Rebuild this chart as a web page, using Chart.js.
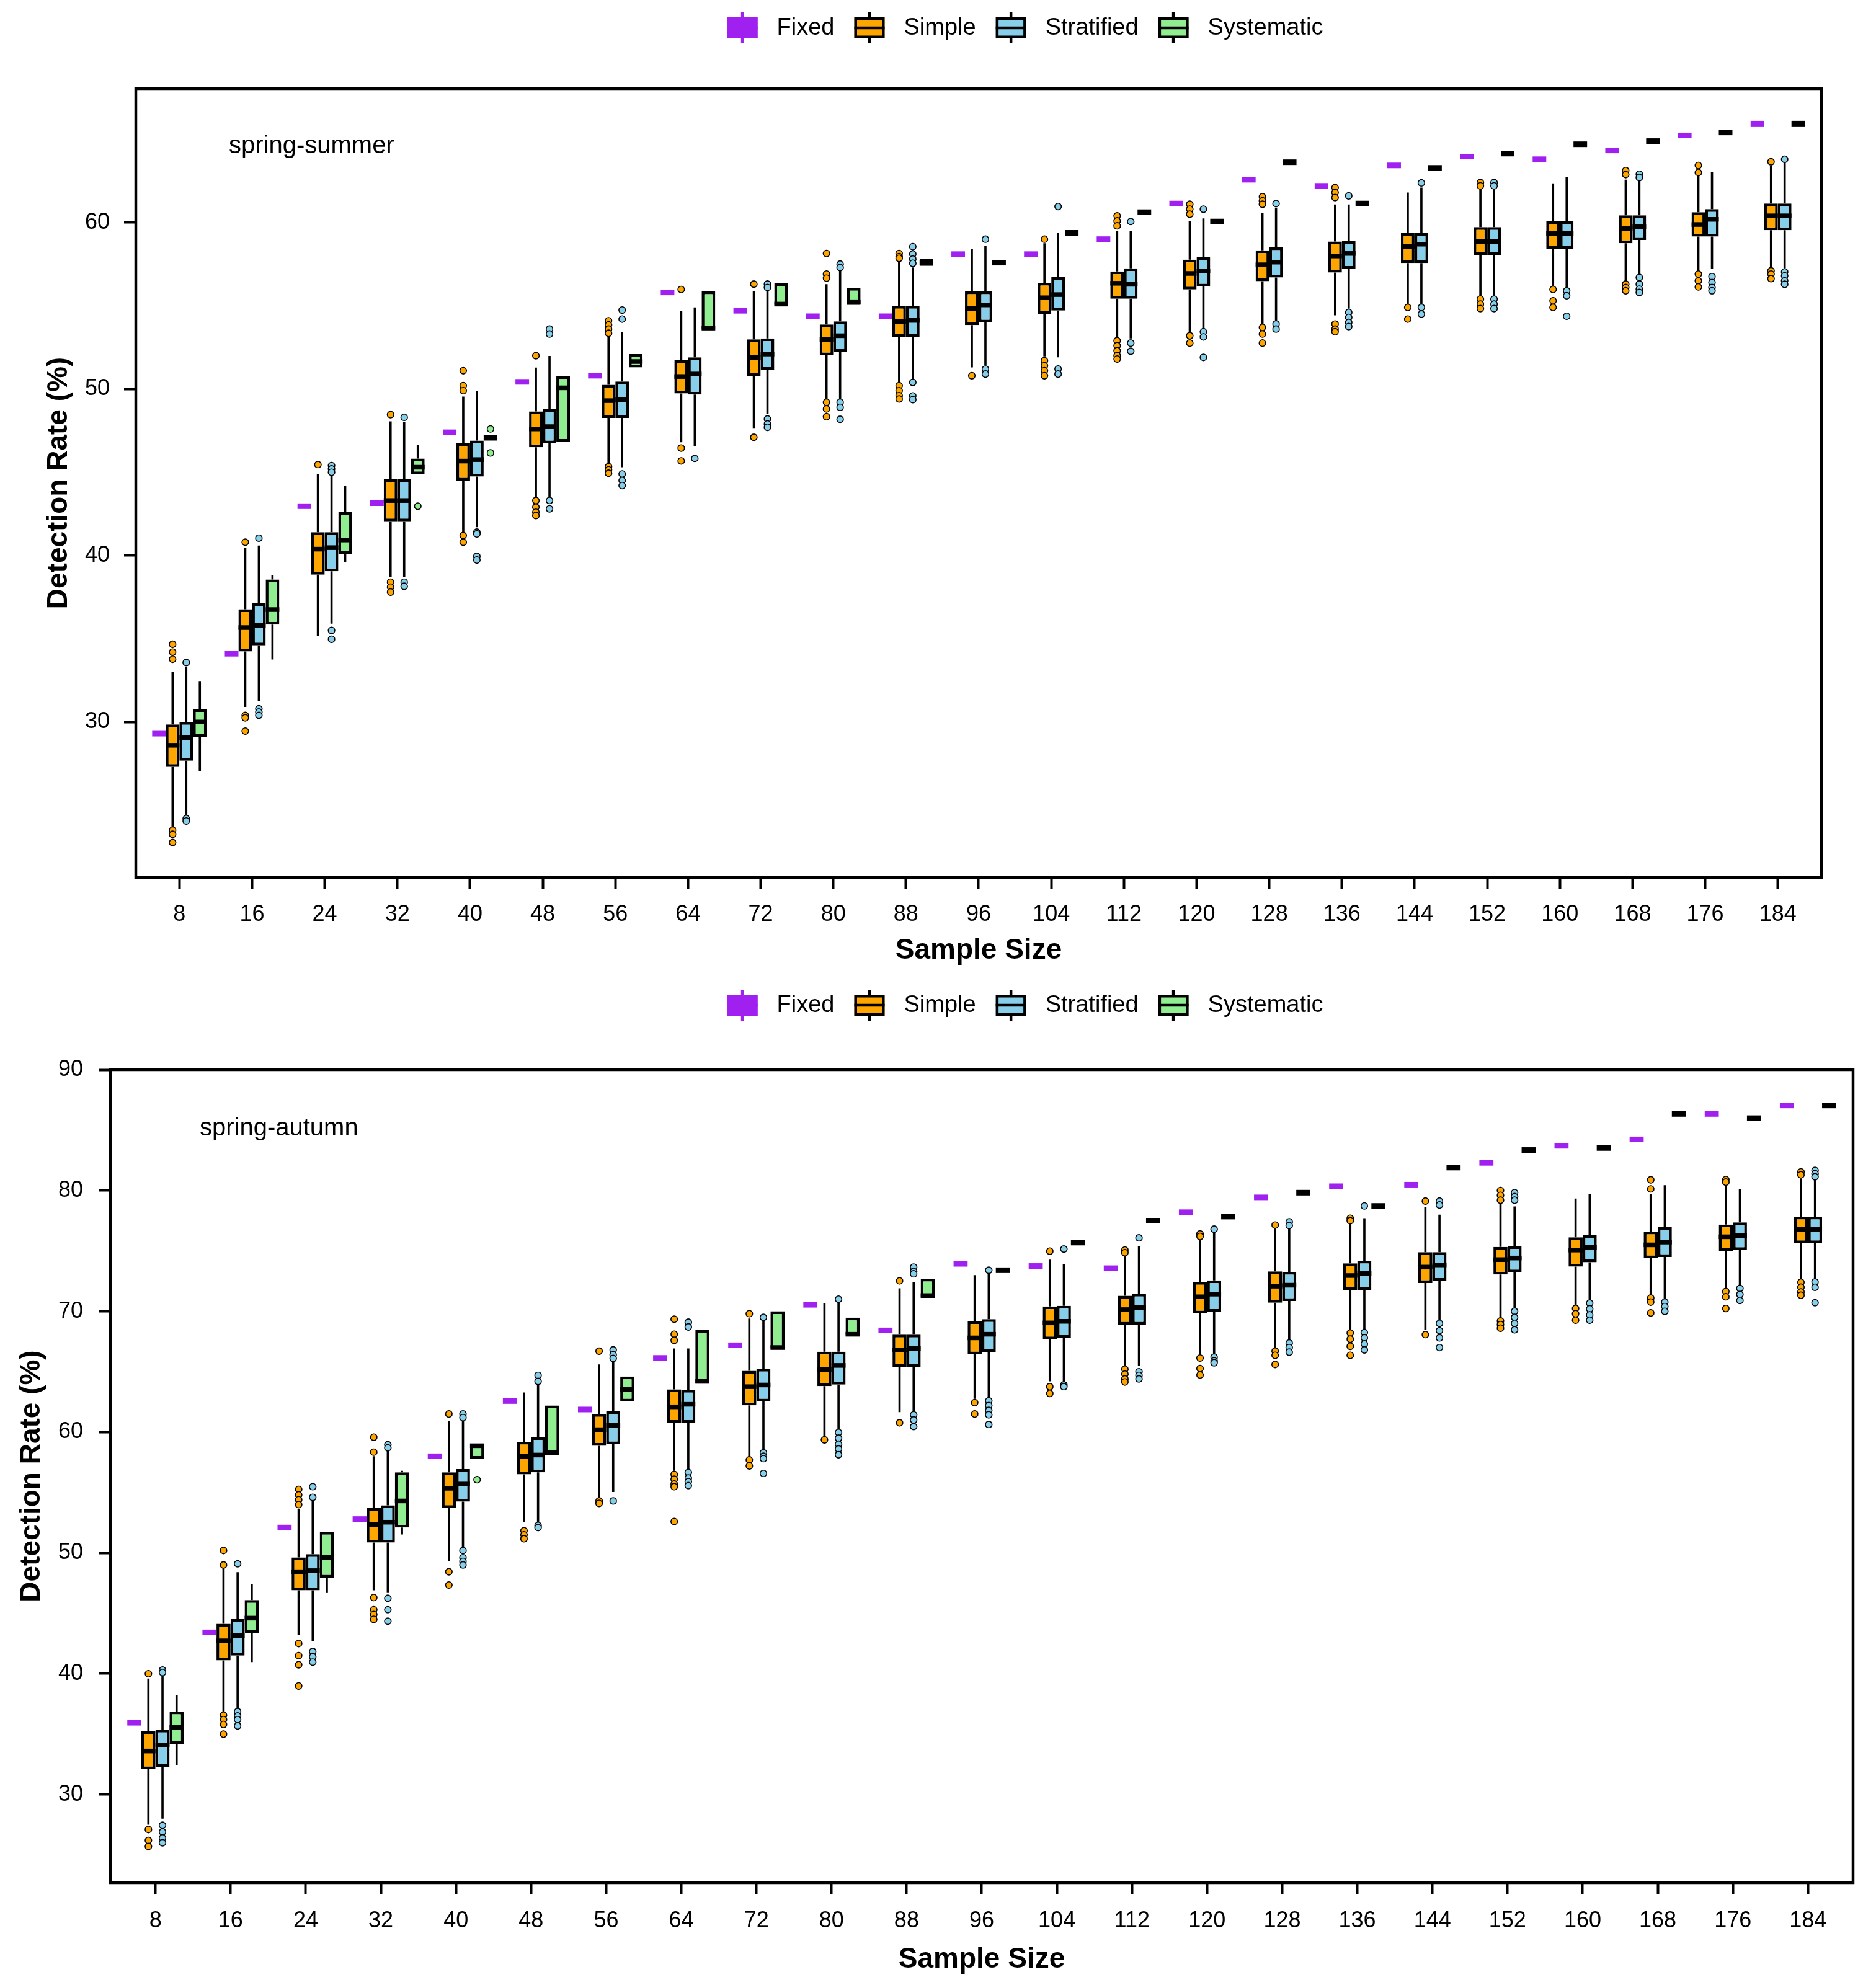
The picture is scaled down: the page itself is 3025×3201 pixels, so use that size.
<!DOCTYPE html>
<html>
<head>
<meta charset="utf-8">
<title>Detection rate by sample size</title>
<script src="https://cdn.jsdelivr.net/npm/chart.js@4.4.1/dist/chart.umd.min.js"></script>
<style>
  html, body { margin: 0; padding: 0; background: #fff; }
  #page { position: relative; width: 3025px; height: 3201px; }
  .panel { position: absolute; left: 0; width: 3025px; }
  #panelTop { top: 0; height: 1590px; }
  #panelBottom { top: 1590px; height: 1611px; }
</style>
</head>
<body>
<div id="page">
  <div class="panel" id="panelTop"><canvas id="canvasTop"></canvas></div>
  <div class="panel" id="panelBottom"><canvas id="canvasBottom"></canvas></div>
</div>
<script>
const sampleSizes = [8, 16, 24, 32, 40, 48, 56, 64, 72, 80, 88, 96, 104, 112, 120, 128, 136, 144, 152, 160, 168, 176, 184];
const methods = ["Fixed", "Simple", "Stratified", "Systematic"];
const methodColors = ["#A020F0", "#FFA500", "#87CEEB", "#90EE90"];

// box summaries are [lower whisker, q1, median, q3, upper whisker]

// spring-summer
const summerTicks = [30, 40, 50, 60];
const summerFixed = [29.3, 34.1, 42.96, 43.14, 47.4, 50.43, 50.8, 55.8, 54.7, 54.37, 54.37, 58.1, 58.1, 59.0, 61.14, 62.57, 62.2, 63.43, 63.96, 63.8, 64.33, 65.23, 65.94];
const summerSimple = [
  [23.6, 27.3, 28.6, 29.85, 33.0], [30.9, 34.24, 35.67, 36.77, 40.47], [35.17, 38.85, 40.38, 41.4, 44.88],
  [38.7, 42.05, 43.3, 44.58, 48.06], [41.4, 44.5, 45.67, 46.73, 49.55], [43.45, 46.5, 47.6, 48.65, 51.29],
  [45.56, 48.26, 49.3, 50.25, 53.1], [46.8, 49.73, 50.75, 51.74, 54.68], [47.66, 50.78, 51.9, 52.98, 55.9],
  [49.4, 52.02, 52.98, 53.88, 56.3], [50.41, 53.13, 54.06, 54.99, 57.7], [51.3, 53.84, 54.83, 55.86, 58.4],
  [51.96, 54.52, 55.48, 56.38, 58.76], [53.04, 55.42, 56.35, 57.06, 59.47], [53.38, 55.98, 56.94, 57.77, 60.09],
  [53.9, 56.47, 57.46, 58.33, 60.56], [54.43, 57.0, 57.99, 58.86, 61.08], [54.99, 57.56, 58.55, 59.38, 61.8],
  [55.6, 58.05, 58.86, 59.72, 62.1], [56.07, 58.42, 59.35, 60.09, 62.35], [56.47, 58.76, 59.63, 60.43, 62.57],
  [57.0, 59.16, 59.88, 60.62, 62.88], [57.25, 59.54, 60.4, 61.14, 63.43]
];
const summerSimpleOut = [
  [34.67, 34.2, 33.77, 23.5, 23.25, 22.76], [40.8, 30.4, 30.25, 29.45], [45.46],
  [48.46, 38.4, 38.1, 37.8], [51.1, 50.2, 49.9, 41.2, 40.8], [52.0, 43.3, 42.9, 42.6, 42.4],
  [54.1, 53.85, 53.6, 53.35, 45.34, 45.15, 44.94], [55.98, 46.45, 45.68], [56.3, 47.1],
  [58.14, 56.9, 56.66, 49.2, 48.8, 48.34], [58.14, 57.95, 57.85, 50.2, 49.9, 49.6, 49.4], [50.8],
  [59.0, 51.7, 51.4, 51.1, 50.8], [60.4, 60.1, 59.8, 52.9, 52.6, 52.3, 52.0, 51.8], [61.1, 60.8, 60.5, 53.2, 52.76],
  [61.55, 61.3, 61.1, 53.7, 53.3, 52.76], [62.1, 61.8, 61.5, 53.9, 53.6, 53.44], [54.9, 54.2],
  [62.4, 62.2, 55.4, 55.1, 54.83], [55.98, 55.3, 54.9], [63.12, 62.88, 56.3, 56.1, 55.9],
  [63.43, 63.0, 56.9, 56.5, 56.13], [63.65, 57.1, 56.9, 56.63]
];
const summerStrat = [
  [24.4, 27.67, 29.05, 30.0, 33.3], [31.26, 34.6, 35.8, 37.13, 40.6], [35.9, 39.05, 40.47, 41.4, 44.8],
  [38.7, 42.05, 43.3, 44.58, 48.0], [41.7, 44.74, 45.76, 46.9, 49.86], [43.5, 46.73, 47.74, 48.8, 51.99],
  [45.3, 48.26, 49.37, 50.45, 53.44], [46.58, 49.67, 50.9, 51.9, 54.9], [48.5, 51.15, 52.1, 53.04, 55.86],
  [49.4, 52.24, 53.2, 54.06, 57.15], [50.6, 53.13, 54.12, 54.99, 57.3], [51.43, 54.0, 55.05, 55.86, 58.6],
  [51.9, 54.71, 55.67, 56.72, 59.38], [53.04, 55.42, 56.29, 57.25, 59.47], [53.6, 56.16, 57.09, 57.93, 60.25],
  [54.06, 56.7, 57.62, 58.5, 60.9], [54.83, 57.22, 58.14, 58.89, 61.08], [54.99, 57.56, 58.7, 59.38, 62.1],
  [55.6, 58.05, 58.86, 59.72, 62.1], [56.07, 58.42, 59.35, 60.09, 62.72], [56.84, 58.95, 59.75, 60.43, 62.5],
  [57.22, 59.16, 60.19, 60.8, 63.03], [57.25, 59.54, 60.4, 61.14, 63.6]
];
const summerStratOut = [
  [33.57, 24.2, 24.05], [41.04, 30.8, 30.6, 30.4], [45.4, 45.2, 45.0, 35.5, 34.97],
  [48.3, 38.4, 38.15], [41.4, 41.3, 39.95, 39.73], [53.6, 53.3, 43.3, 42.8],
  [54.74, 54.2, 44.9, 44.5, 44.2], [45.83], [56.3, 56.1, 48.2, 47.9, 47.7],
  [57.5, 57.3, 49.2, 48.9, 48.18], [58.55, 58.1, 57.8, 57.55, 50.4, 49.58, 49.36], [59.0, 51.2, 50.9],
  [60.96, 51.2, 50.9], [60.06, 52.76, 52.27], [60.8, 53.44, 53.13, 51.9],
  [61.14, 53.9, 53.6], [61.6, 54.6, 54.3, 54.0, 53.75], [62.38, 54.9, 54.5],
  [62.4, 62.2, 55.4, 55.1, 54.83], [55.9, 55.6, 54.37], [62.9, 62.7, 56.7, 56.3, 56.0, 55.8],
  [56.75, 56.4, 56.1, 55.9], [63.8, 57.03, 56.8, 56.5, 56.29]
];
const summerSyst = [
  [27.06, 29.1, 30.0, 30.77, 32.46], [33.75, 35.85, 36.75, 38.56, 38.83], [39.6, 40.1, 40.93, 42.6, 44.2],
  [44.88, 44.88, 45.3, 45.82, 46.66], [47.07, 47.07, 47.07, 47.07, 47.07], [46.84, 46.84, 50.07, 50.77, 50.77],
  [51.3, 51.3, 51.65, 52.1, 52.1], [53.6, 53.6, 53.66, 55.86, 55.86], [55.05, 55.05, 55.1, 56.35, 56.35],
  [55.05, 55.05, 55.24, 56.07, 56.07], [57.4, 57.4, 57.6, 57.83, 57.83], [57.59, 57.59, 57.59, 57.59, 57.59],
  [59.38, 59.38, 59.38, 59.38, 59.38], [60.62, 60.62, 60.62, 60.62, 60.62], [60.06, 60.06, 60.06, 60.06, 60.06],
  [63.62, 63.62, 63.62, 63.62, 63.62], [61.14, 61.14, 61.14, 61.14, 61.14], [63.28, 63.28, 63.28, 63.28, 63.28],
  [64.14, 64.14, 64.14, 64.14, 64.14], [64.7, 64.7, 64.7, 64.7, 64.7], [64.89, 64.89, 64.89, 64.89, 64.89],
  [65.41, 65.41, 65.41, 65.41, 65.41], [65.94, 65.94, 65.94, 65.94, 65.94]
];
const summerSystOut = [[], [], [], [42.96], [47.6, 46.16], [], [], [], [], [], [], [], [], [], [], [], [], [], [], [], [], [], []];

// spring-autumn
const autumnTicks = [30, 40, 50, 60, 70, 80, 90];
const autumnFixed = [35.94, 43.42, 52.1, 52.8, 58.0, 62.57, 61.87, 66.14, 67.19, 70.54, 68.42, 73.93, 73.75, 73.57, 78.2, 79.43, 80.35, 80.48, 82.29, 83.7, 84.23, 86.34, 87.04];
const autumnSimple = [
  [27.5, 32.1, 33.6, 35.24, 39.6], [36.78, 41.1, 42.72, 44.13, 48.9], [43.2, 46.9, 48.44, 49.63, 53.6],
  [46.9, 50.86, 52.36, 53.72, 58.0], [49.3, 53.72, 55.35, 56.67, 60.9], [52.54, 56.5, 57.99, 59.2, 63.28],
  [54.47, 58.87, 60.2, 61.5, 65.6], [56.8, 60.77, 62.09, 63.54, 66.93], [57.9, 62.22, 63.76, 65.08, 69.4],
  [59.6, 63.8, 65.17, 66.66, 70.67], [61.65, 65.39, 66.8, 68.07, 71.9], [62.75, 66.44, 67.8, 69.17, 73.0],
  [64.2, 67.68, 69.04, 70.4, 74.28], [65.48, 68.9, 70.14, 71.29, 74.7], [66.3, 69.83, 71.2, 72.43, 76.04],
  [66.93, 70.71, 72.08, 73.3, 77.0], [68.47, 71.77, 72.96, 73.97, 77.3], [68.47, 72.34, 73.66, 74.9, 78.6],
  [69.44, 73.05, 74.28, 75.33, 78.9], [70.45, 73.7, 75.07, 76.13, 79.34], [71.2, 74.4, 75.5, 76.6, 79.7],
  [71.77, 74.98, 76.17, 77.18, 80.5], [72.65, 75.64, 76.79, 77.84, 81.0]
];
const autumnSimpleOut = [
  [40.0, 27.1, 26.2, 25.7], [50.2, 49.0, 36.56, 36.2, 35.8, 35.0], [55.26, 54.8, 54.4, 54.0, 42.5, 41.5, 40.74, 38.98],
  [59.58, 58.34, 46.3, 45.3, 44.9, 44.5], [61.5, 48.44, 47.34], [51.83, 51.5, 51.17],
  [66.7, 54.3, 54.1], [69.35, 68.1, 67.6, 56.5, 56.1, 55.7, 55.48, 52.6], [69.8, 57.7, 57.2],
  [59.36], [72.52, 60.77], [62.44, 61.5],
  [74.98, 63.76, 63.2], [75.07, 74.85, 65.2, 64.8, 64.4, 64.15], [76.4, 76.2, 66.13, 65.26, 64.73],
  [77.14, 66.7, 66.36, 65.6], [77.7, 77.5, 68.2, 67.7, 67.1, 66.36], [79.12, 68.07],
  [80.0, 79.6, 79.2, 69.2, 68.9, 68.6], [70.23, 69.8, 69.26], [80.88, 80.13, 71.1, 70.76, 69.87],
  [80.9, 80.7, 71.64, 71.2, 70.23], [81.54, 81.3, 72.4, 72.0, 71.6, 71.33]
];
const autumnStrat = [
  [28.0, 32.3, 34.1, 35.37, 39.8], [37.0, 41.5, 43.16, 44.52, 48.4], [42.72, 46.9, 48.53, 49.9, 54.38],
  [46.68, 50.86, 52.54, 53.94, 58.5], [50.42, 54.25, 55.7, 56.94, 61.0], [52.54, 56.67, 58.1, 59.58, 63.9],
  [55.04, 59.0, 60.55, 61.73, 65.8], [56.8, 60.77, 62.3, 63.5, 66.93], [58.43, 62.53, 63.9, 65.25, 69.4],
  [60.1, 63.93, 65.52, 66.66, 70.7], [61.65, 65.39, 66.93, 68.07, 72.4], [62.84, 66.62, 68.1, 69.35, 73.2],
  [64.07, 67.8, 69.17, 70.45, 73.88], [65.48, 68.9, 70.32, 71.46, 75.42], [66.36, 69.96, 71.42, 72.56, 76.5],
  [67.5, 70.85, 72.16, 73.27, 77.0], [68.47, 71.77, 73.13, 74.19, 77.7], [69.13, 72.52, 73.84, 74.9, 78.0],
  [70.14, 73.22, 74.41, 75.38, 78.68], [70.76, 74.06, 75.29, 76.3, 79.69], [70.9, 74.5, 75.73, 76.96, 80.44],
  [71.99, 75.07, 76.26, 77.36, 80.1], [72.52, 75.64, 76.79, 77.84, 80.9]
];
const autumnStratOut = [
  [40.3, 40.1, 27.45, 26.9, 26.4, 26.0], [49.1, 36.86, 36.5, 36.2, 35.68], [55.48, 54.6, 41.84, 41.4, 40.96],
  [58.96, 58.7, 46.24, 45.3, 44.35], [61.5, 61.2, 50.2, 49.6, 49.3, 49.0], [64.7, 64.2, 52.27, 52.1],
  [66.8, 66.4, 66.1, 54.3], [69.1, 68.7, 56.67, 56.2, 55.9, 55.57], [69.5, 58.3, 58.0, 57.8, 56.58],
  [71.0, 59.97, 59.5, 59.0, 58.6, 58.13], [73.66, 73.3, 73.1, 61.43, 61.0, 60.46], [73.4, 62.6, 62.2, 61.8, 61.43, 60.63],
  [75.16, 63.9, 63.76], [76.08, 65.0, 64.7, 64.4], [76.8, 66.2, 65.9, 65.74],
  [77.4, 77.1, 67.37, 67.0, 66.62], [78.72, 68.25, 67.8, 67.3, 66.8], [79.12, 78.8, 69.0, 68.4, 67.8, 67.0],
  [79.82, 79.5, 79.2, 70.0, 69.5, 69.0, 68.47], [70.67, 70.2, 69.7, 69.26], [70.76, 70.4, 70.0],
  [71.9, 71.4, 70.9], [81.67, 81.4, 81.14, 72.43, 71.99, 70.71]
];
const autumnSyst = [
  [32.4, 34.2, 35.55, 36.87, 38.2], [40.96, 43.38, 44.6, 46.1, 47.43], [46.68, 47.96, 49.63, 51.74, 51.74],
  [51.52, 52.1, 54.3, 56.67, 56.8], [57.8, 57.8, 58.87, 58.96, 58.96], [58.1, 58.1, 58.34, 62.2, 62.2],
  [62.53, 62.53, 63.54, 64.6, 64.6], [64.07, 64.07, 64.2, 68.47, 68.47], [66.93, 66.93, 67.0, 70.0, 70.0],
  [68.03, 68.03, 68.1, 69.48, 69.48], [71.2, 71.2, 71.3, 72.7, 72.7], [73.4, 73.4, 73.4, 73.4, 73.4],
  [75.69, 75.69, 75.69, 75.69, 75.69], [77.5, 77.5, 77.5, 77.5, 77.5], [77.84, 77.84, 77.84, 77.84, 77.84],
  [79.82, 79.82, 79.82, 79.82, 79.82], [78.72, 78.72, 78.72, 78.72, 78.72], [81.9, 81.9, 81.9, 81.9, 81.9],
  [83.35, 83.35, 83.35, 83.35, 83.35], [83.52, 83.52, 83.52, 83.52, 83.52], [86.34, 86.34, 86.34, 86.34, 86.34],
  [85.99, 85.99, 85.99, 85.99, 85.99], [87.04, 87.04, 87.04, 87.04, 87.04]
];
const autumnSystOut = [[], [], [], [], [56.06], [], [], [], [], [], [], [], [], [], [], [], [], [], [], [], [], [], []];

const FONT = "'Liberation Sans', Arial, Helvetica, sans-serif";
Chart.defaults.font.family = FONT;
Chart.defaults.color = "#000";

// whiskers under the boxes, medians and outliers on top
const boxParts = {
  id: "boxParts",
  beforeDatasetsDraw(chart) {
    const {ctx, scales: {y}} = chart;
    ctx.save();
    ctx.strokeStyle = "#000";
    ctx.lineWidth = 3.6;
    chart.data.datasets.forEach((ds, i) => {
      chart.getDatasetMeta(i).data.forEach((bar, j) => {
        const s = ds.summary[j];
        ctx.beginPath();
        if (s[0] < s[1]) {
          ctx.moveTo(bar.x, y.getPixelForValue(s[0]));
          ctx.lineTo(bar.x, y.getPixelForValue(s[1]));
        }
        if (s[4] > s[3]) {
          ctx.moveTo(bar.x, y.getPixelForValue(s[3]));
          ctx.lineTo(bar.x, y.getPixelForValue(s[4]));
        }
        ctx.stroke();
      });
    });
    ctx.restore();
  },
  afterDatasetsDraw(chart) {
    const {ctx, scales: {y}} = chart;
    ctx.save();
    ctx.lineCap = "butt";
    chart.data.datasets.forEach((ds, i) => {
      chart.getDatasetMeta(i).data.forEach((bar, j) => {
        const s = ds.summary[j];
        const py = y.getPixelForValue(s[2]);
        ctx.strokeStyle = ds.medianColor;
        ctx.lineWidth = s[1] === s[3] ? 9 : 7.5;
        ctx.beginPath();
        ctx.moveTo(bar.x - bar.width / 2, py);
        ctx.lineTo(bar.x + bar.width / 2, py);
        ctx.stroke();
      });
    });
    ctx.lineWidth = 1.6;
    ctx.strokeStyle = "#000";
    chart.data.datasets.forEach((ds, i) => {
      ctx.fillStyle = ds.backgroundColor;
      chart.getDatasetMeta(i).data.forEach((bar, j) => {
        ds.outliers[j].forEach(v => {
          ctx.beginPath();
          ctx.arc(bar.x, y.getPixelForValue(v), 5.3, 0, Math.PI * 2);
          ctx.fill();
          ctx.stroke();
        });
      });
    });
    ctx.restore();
  }
};

function drawGlyph(ctx, x, cy, i) {
  const w = 49, h = 34, stub = 8;
  const line = i === 0 ? methodColors[0] : "#000";
  ctx.lineWidth = 4.5;
  ctx.strokeStyle = line;
  ctx.beginPath();
  ctx.moveTo(x + w / 2, cy - h / 2 - stub);
  ctx.lineTo(x + w / 2, cy - h / 2);
  ctx.moveTo(x + w / 2, cy + h / 2);
  ctx.lineTo(x + w / 2, cy + h / 2 + stub);
  ctx.stroke();
  ctx.fillStyle = methodColors[i];
  ctx.fillRect(x, cy - h / 2, w, h);
  ctx.strokeRect(x + 2.25, cy - h / 2 + 2.25, w - 4.5, h - 4.5);
  ctx.beginPath();
  ctx.moveTo(x, cy);
  ctx.lineTo(x + w, cy);
  ctx.stroke();
}

// panel frame, panel label and the boxplot-style legend
const panelDecor = {
  id: "panelDecor",
  afterDraw(chart, args, opts) {
    const {ctx, chartArea: a} = chart;
    ctx.save();
    ctx.strokeStyle = "#000";
    ctx.lineWidth = 4.5;
    ctx.strokeRect(a.left, a.top, a.right - a.left, a.bottom - a.top);

    ctx.fillStyle = "#000";
    ctx.font = "40px " + FONT;
    ctx.textBaseline = "middle";
    ctx.textAlign = "left";
    ctx.fillText(opts.label, a.left + opts.labelDx, a.top + opts.labelDy);

    ctx.font = "38px " + FONT;
    const glyphW = 49, gapText = 31, gapItem = 32;
    const widths = methods.map(m => ctx.measureText(m).width);
    const total = widths.reduce((acc, w) => acc + glyphW + gapText + w, 0) + gapItem * (methods.length - 1);
    let x = opts.legendX - total / 2;
    methods.forEach((m, i) => {
      drawGlyph(ctx, x, opts.legendY, i);
      ctx.fillStyle = "#000";
      ctx.fillText(m, x + glyphW + gapText, opts.legendY + 1);
      x += glyphW + gapText + widths[i] + gapItem;
    });
    ctx.restore();
  }
};

function buildDatasets(fixed, simple, simpleOut, strat, stratOut, syst, systOut) {
  const parts = [
    [fixed.map(v => [v, v, v, v, v]), fixed.map(() => [])],
    [simple, simpleOut],
    [strat, stratOut],
    [syst, systOut]
  ];
  return parts.map(([summary, outliers], i) => ({
    label: methods[i],
    data: summary.map((s, j) => ({x: j, y: [s[1], s[3]]})),
    summary: summary,
    outliers: outliers,
    backgroundColor: methodColors[i],
    borderColor: "#000",
    borderWidth: i === 0 ? 0 : 4.5,
    borderSkipped: false,
    medianColor: i === 0 ? methodColors[0] : "#000",
    categoryPercentage: 0.75,
    barPercentage: 1
  }));
}

function makeChart(canvasId, p) {
  return new Chart(document.getElementById(canvasId), {
    type: "bar",
    data: {datasets: p.datasets},
    options: {
      responsive: true,
      maintainAspectRatio: false,
      animation: false,
      events: [],
      layout: {padding: {top: p.padTop, right: p.padRight, left: 0, bottom: 0}},
      plugins: {
        legend: {display: false},
        tooltip: {enabled: false},
        panelDecor: {label: p.label, labelDx: p.labelDx, labelDy: p.labelDy, legendX: 1653, legendY: p.legendY}
      },
      scales: {
        x: {
          type: "linear",
          min: -0.6,
          max: sampleSizes.length - 0.4,
          offset: false,
          afterBuildTicks: s => { s.ticks = sampleSizes.map((v, i) => ({value: i})); },
          afterFit: s => { s.height = p.xHeight; },
          ticks: {
            autoSkip: false,
            maxRotation: 0,
            padding: p.xTickPad,
            font: {size: 36},
            color: "#000",
            callback: v => sampleSizes[v]
          },
          grid: {display: true, offset: false, drawOnChartArea: false, drawTicks: true, tickLength: 19, tickWidth: 4, tickColor: "#000"},
          border: {display: false},
          title: {display: true, text: "Sample Size", font: {size: 46, weight: "bold"}, color: "#000", padding: {top: 0, bottom: p.xTitlePad}}
        },
        y: {
          type: "linear",
          min: p.yMin,
          max: p.yMax,
          afterBuildTicks: s => { s.ticks = p.yTicks.map(v => ({value: v})); },
          afterFit: s => { s.width = p.yWidth; },
          ticks: {padding: p.yTickPad, font: {size: 36}, color: "#000"},
          grid: {display: true, drawOnChartArea: false, drawTicks: true, tickLength: 19, tickWidth: 4, tickColor: "#000"},
          border: {display: false},
          title: {display: true, text: "Detection Rate (%)", font: {size: 46, weight: "bold"}, color: "#000", padding: {top: p.yTitlePad, bottom: 0}}
        }
      }
    },
    plugins: [boxParts, panelDecor]
  });
}

makeChart("canvasTop", {
  datasets: buildDatasets(summerFixed, summerSimple, summerSimpleOut, summerStrat, summerStratOut, summerSyst, summerSystOut),
  label: "spring-summer", labelDx: 150, labelDy: 93,
  legendY: 45,
  padTop: 143, padRight: 88,
  xHeight: 175, xTickPad: 19.4, xTitlePad: 29.4,
  yWidth: 219, yTickPad: 23, yTitlePad: 67.4,
  yMin: 20.66, yMax: 68.04, yTicks: summerTicks
});

makeChart("canvasBottom", {
  datasets: buildDatasets(autumnFixed, autumnSimple, autumnSimpleOut, autumnStrat, autumnStratOut, autumnSyst, autumnSystOut),
  label: "spring-autumn", labelDx: 144, labelDy: 95,
  legendY: 31,
  padTop: 135, padRight: 37,
  xHeight: 165, xTickPad: 21.4, xTitlePad: 13.4,
  yWidth: 178, yTickPad: 25, yTitlePad: 23.4,
  yMin: 22.7, yMax: 90, yTicks: autumnTicks
});
</script>
</body>
</html>
